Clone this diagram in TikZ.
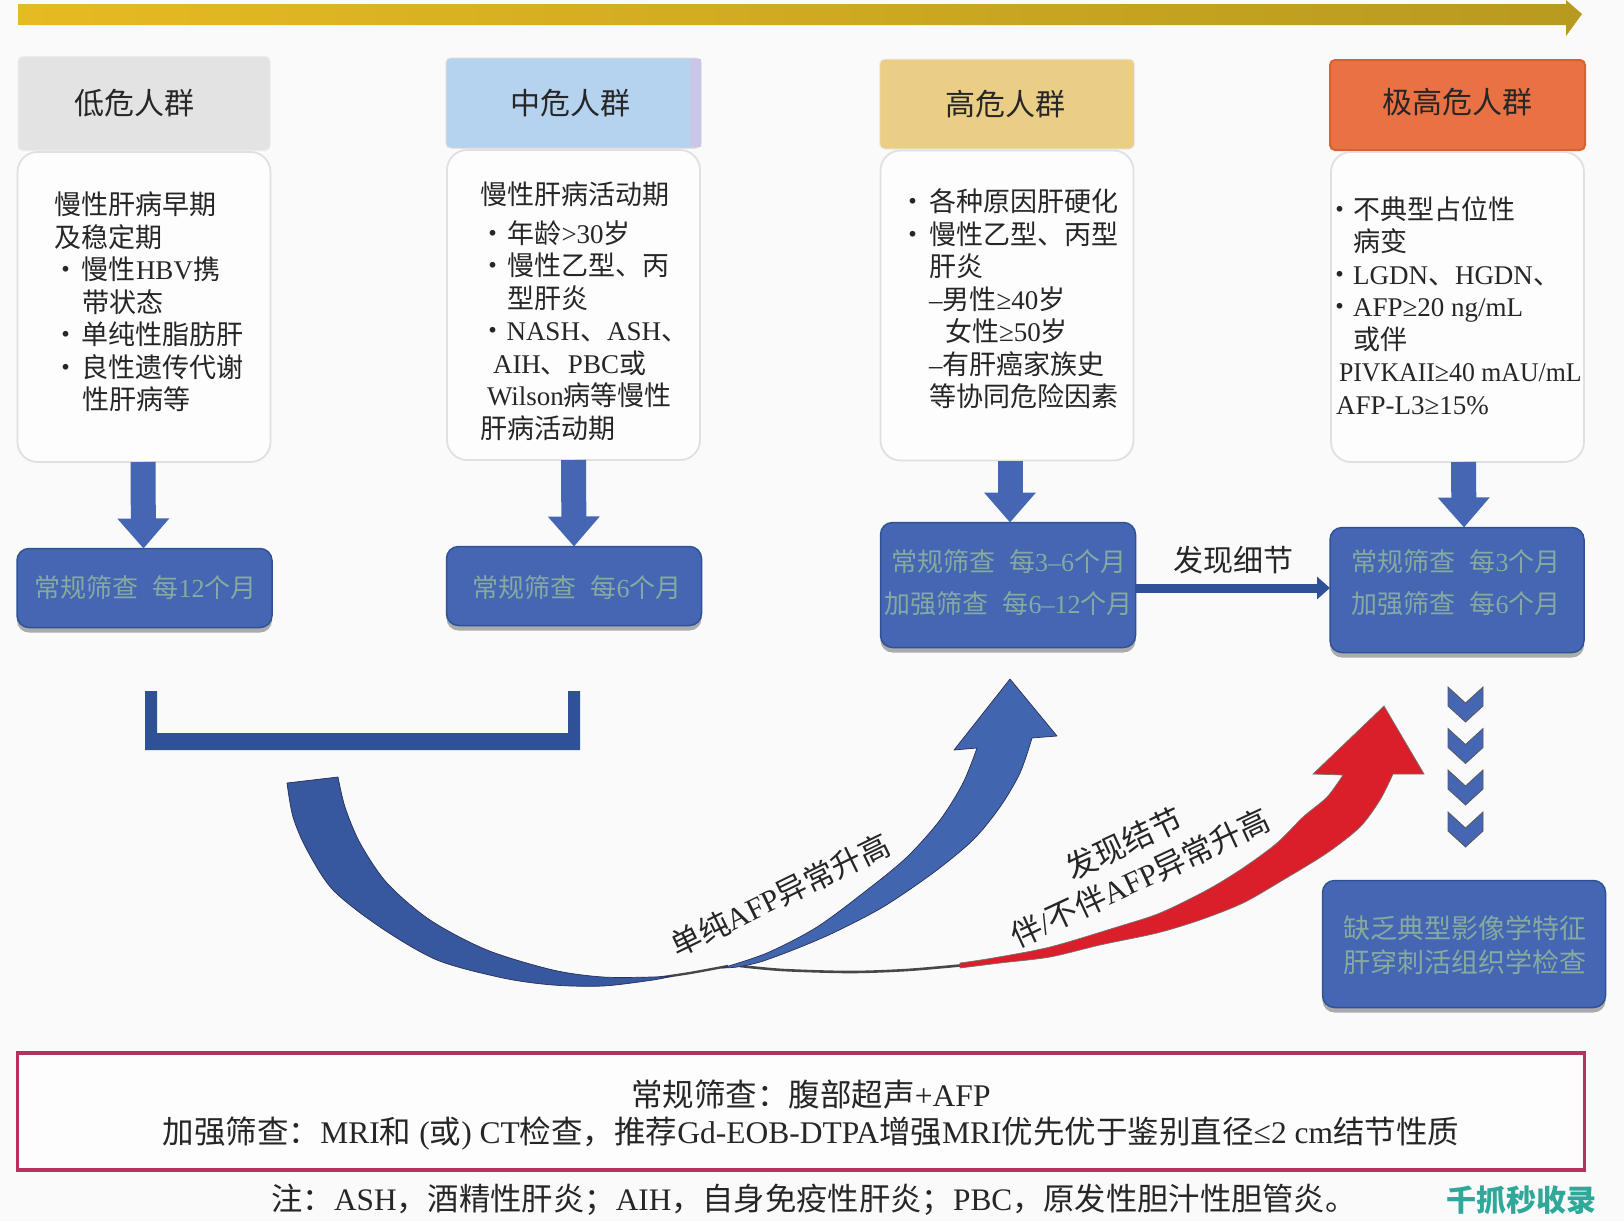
\documentclass[tikz,border=0pt]{standalone}
\usepackage{fontspec}
\setmainfont{Noto Sans CJK SC}
\newfontfamily\latf{Liberation Serif}
\usetikzlibrary{arrows.meta,shadows,calc}
\newcommand\La[1]{{\latf #1}}
\newcommand\Fs[2]{\fontsize{#1}{#2}\selectfont}
\newcommand\Bu[1]{\makebox[#1][l]{\kern-10pt •}}
\definecolor{pagebg}{HTML}{FAFAFA}
\definecolor{boxblue}{HTML}{4566B2}
\definecolor{boxedge}{HTML}{2F5296}
\definecolor{arcblue}{HTML}{37579F}
\definecolor{riseblue}{HTML}{4265B0}
\definecolor{arcedge}{HTML}{2A2F55}
\definecolor{boxtext}{HTML}{86AAA0}
\definecolor{inktext}{HTML}{262626}
\definecolor{crim}{HTML}{B8305F}
\definecolor{hgrey}{HTML}{E3E3E3}
\definecolor{hblue}{HTML}{B5D3EF}
\definecolor{hlav}{HTML}{C9C6E8}
\definecolor{hyellow}{HTML}{EBCE86}
\definecolor{horange}{HTML}{EA7144}
\definecolor{horangeedge}{HTML}{D8622E}
\definecolor{topa}{HTML}{E6BA22}
\definecolor{topb}{HTML}{D39C2A}
\definecolor{topc}{HTML}{B89A20}
\definecolor{redarrow}{HTML}{DB1F2A}
\definecolor{wmteal}{HTML}{2FA89A}
\tikzset{
  x=1pt,y=-1pt,
  every node/.style={inner sep=0pt,outer sep=0pt,text=inktext},
  header/.style={minimum width=#1,minimum height=91pt,rounded corners=5pt},
  headtext/.style={font=\Fs{30}{36}},
  bodybox/.style={draw=black!12,line width=1.8pt,fill=white!60!pagebg,rounded corners=20pt,minimum width=253pt,minimum height=310pt},
  bluebox/.style={draw=boxedge,line width=1.5pt,fill=boxblue,rounded corners=12pt,
     drop shadow={shadow xshift=0pt,shadow yshift=-5pt,opacity=.45,fill=black!70}},
  bluetext/.style={text=boxtext,font=\Fs{26}{42},align=center},
  listtext/.style={anchor=north west,align=left,font=\Fs{27}{32.5}},
  bigarrow/.style={draw=boxedge,line width=25pt,boxblue,-{Triangle[length=30pt,width=50pt]}},
  chev/.style={fill=boxblue,draw=black!65,line width=.8pt,line join=miter},
  outl/.style={draw=arcedge,line width=.7pt,line join=round},
}
\begin{document}
\begin{tikzpicture}
\useasboundingbox (0,0) rectangle (1624,1221);
\fill[pagebg] (0,0) rectangle (1624,1221);

% top arrow
\shade[left color=topa,middle color=topb,right color=topc]
  (18,4) -- (1566,4) -- (1566,0) -- (1582,14) -- (1566,36) -- (1566,25) -- (18,25) -- cycle;

% headers
\node[header=252pt,fill=hgrey,draw=black!8,line width=1pt,minimum height=94pt] (h1) at (144,103.5) {};
\node[header=255pt,fill=hblue,draw=black!15,line width=1pt,minimum height=90pt] (h2) at (573.5,103) {};
\fill[hlav] (690,59) -- (701,59) -- (701,147) -- (690,147) -- cycle;
\node[header=255pt,fill=hyellow,draw=black!8,line width=1pt,minimum height=90pt] (h3) at (1007,104) {};
\node[header=255pt,fill=horange,draw=horangeedge,line width=2pt,minimum height=90pt] (h4) at (1457.5,105) {};
\node[headtext] (ht1) at (134.5,103) {低危人群};
\node[headtext] (ht2) at (570,103) {中危人群};
\node[headtext] (ht3) at (1005,104) {高危人群};
\node[headtext] (ht4) at (1457.5,102) {极高危人群};

% bodies
\node[bodybox] (b1) at (144,307) {};
\node[bodybox] (b2) at (573.5,305) {};
\node[bodybox] (b3) at (1007,305.5) {};
\node[bodybox] (b4) at (1457.5,307) {};

\node[listtext] (l1) at (54,192) {慢性肝病早期\\及稳定期\\
  \hspace*{8pt}\Bu{20pt}慢性\La{HBV}携\\
  \hspace*{28pt}带状态\\
  \hspace*{8pt}\Bu{20pt}单纯性脂肪肝\\
  \hspace*{8pt}\Bu{20pt}良性遗传代谢\\
  \hspace*{28pt}性肝病等};
\node[listtext] (l2) at (480.5,182) {慢性肝病活动期\\[6pt]
  \hspace*{9pt}\Bu{18pt}年龄\La{>30}岁\\
  \hspace*{9pt}\Bu{18pt}慢性乙型、丙\\
  \hspace*{27pt}型肝炎\\
  \hspace*{9pt}\Bu{17pt}\La{NASH}、\La{ASH}、\\
  \hspace*{12.5pt}\La{AIH}、\La{PBC}或\\
  \hspace*{6.5pt}\La{Wilson}病等慢性\\
  肝病活动期};
\node[listtext] (l3) at (909,189) {\Bu{20pt}各种原因肝硬化\\
  \Bu{20pt}慢性乙型、丙型\\
  \hspace*{20pt}肝炎\\
  \hspace*{20pt}\La{–}男性\La{≥40}岁\\
  \hspace*{36pt}女性\La{≥50}岁\\
  \hspace*{20pt}\La{–}有肝癌家族史\\
  \hspace*{20pt}等协同危险因素};
\node[listtext] (l4) at (1336,196.5) {\Bu{17pt}不典型占位性\\
  \hspace*{17pt}病变\\
  \Bu{17pt}\La{LGDN}、\La{HGDN}、\\
  \Bu{17pt}\La{AFP≥20 ng/mL}\\
  \hspace*{17pt}或伴\\
  \hspace*{3pt}\scalebox{.955}[1]{\La{PIVKAII≥40 mAU/mL}}\\
  \La{AFP-L3≥15\%}};

% blue boxes
\node[bluebox,minimum width=255pt,minimum height=79pt] (s1) at (144.5,588) {};
\node[bluebox,minimum width=255pt,minimum height=79pt] (s2) at (574,586) {};
\node[bluebox,minimum width=255pt,minimum height=125pt] (s3) at (1008,585) {};
\node[bluebox,minimum width=254pt,minimum height=125pt] (s4) at (1457,590) {};
\node[bluebox,minimum width=283pt,minimum height=127pt] (s5) at (1464,944) {};

\node[bluetext] (st1) at (145.5,588) {常规筛查\hspace{14pt}每\La{12}个月};
\node[bluetext] (st2) at (577,588) {常规筛查\hspace{14pt}每\La{6}个月};
\node[bluetext] (st3) at (1008.5,583) {常规筛查\hspace{14pt}每\La{3–6}个月\\加强筛查\hspace{14pt}每\La{6–12}个月};
\node[bluetext] (st4) at (1456,583) {常规筛查\hspace{14pt}每\La{3}个月\\加强筛查\hspace{14pt}每\La{6}个月};
\node[bluetext,font=\Fs{27}{33.5}] (st5) at (1464.5,945) {缺乏典型影像学特征\\肝穿刺活组织学检查};

% arrows box to box
\draw[bigarrow] ([xshift=-1pt]b1.south) -- ([xshift=-1pt]s1.north);
\draw[bigarrow] (b2.south) -- (s2.north);
\draw[bigarrow] ([xshift=3pt]b3.south) -- ([xshift=2pt]s3.north);
\draw[bigarrow] ([xshift=6pt]b4.south) -- ([xshift=7pt]s4.north);
\draw[draw=boxedge,line width=9pt,-{Triangle[length=13pt,width=22pt]}] ([yshift=-3pt]s3.east) -- ([yshift=2pt]s4.west);
\node[font=\Fs{30}{36}] (found) at (1233,560) {发现细节};

% chevrons
\foreach \cy in {687,728.5,770,812}{
  \draw[chev] (1448,\cy) -- (1465.5,\cy+16) -- (1483,\cy) -- (1483,\cy+19) -- (1465.5,\cy+35) -- (1448,\cy+19) -- cycle;
}

% bracket
\fill[boxedge] (145,691) -- (157,691) -- (157,733) -- (568,733) -- (568,691) -- (580,691) -- (580,750) -- (145,750) -- cycle;

% thin dark tails
\draw[black!72,line width=2.6pt] plot[smooth,tension=.5] coordinates {(740,966) (783,970) (850,972) (907,970) (965,965)};
\draw[black!72,line width=2.4pt] plot[smooth,tension=.5] coordinates {(650,979) (690,973) (728,966)};

% red arrow
\draw[fill=redarrow,draw=black!55,line width=.7pt]
  (960,968) plot[smooth,tension=.5] coordinates {(960,968) (1000,963) (1050,957) (1100,945) (1157,933) (1200,920) (1243,903) (1283,880) (1327,853) (1360,827) (1380,800) (1393,774)}
  -- (1424,774) -- (1384,706) -- (1313,774) -- (1343,775)
  -- plot[smooth,tension=.5] coordinates {(1343,775) (1327,797) (1303,817) (1277,843) (1243,868) (1207,890) (1160,913) (1117,927) (1050,947) (993,958) (960,963)}
  -- cycle;

% blue arrow: lower arc
\draw[outl,fill=arcblue]
  (287,783) plot[smooth,tension=.5] coordinates {(287,783) (293,817) (307,850) (333,890) (380,927) (437,960) (503,978) (553,985) (603,986) (653,980) (672,976)}
  -- plot[smooth,tension=.5] coordinates {(672,976) (653,977) (603,977) (553,970) (487,950) (430,920) (387,883) (360,843) (345,807) (338,777)}
  -- cycle;
% blue arrow: rising part with head
\draw[outl,fill=riseblue]
  (722,968) plot[smooth,tension=.5] coordinates {(722,968) (737,967) (760,962) (793,950) (833,933) (883,907) (933,873) (973,840) (1000,807) (1020,773) (1032,738)}
  -- (1057,736) -- (1010,679) -- (954,750) -- (977,748)
  -- plot[smooth,tension=.5] coordinates {(977,748) (963,783) (940,820) (907,857) (867,890) (817,927) (767,953) (722,968)}
  -- cycle;

% rotated labels
\node[font=\Fs{30.5}{34},rotate=26] (lab1) at (780,895) {单纯\La{AFP}异常升高};
\node[font=\Fs{31}{38},rotate=25,align=center] (lab2) at (1132,860.5) {发现结节\\伴\La{/}不伴\La{AFP}异常升高};

% legend
\node[draw=crim,line width=3.5pt,fill=white!60!pagebg,minimum width=1567pt,minimum height=117pt] (leg) at (801,1111.5) {};
\node[font=\Fs{31.5}{37},align=center] (legt) at (811,1115) {常规筛查：腹部超声\La{+AFP}\\加强筛查：\La{MRI}和\La{ (}或\La{) CT}检查，推荐\La{Gd-EOB-DTPA}增强\La{MRI}优先优于鉴别直径\La{≤2 cm}结节性质};
\node[font=\Fs{31.3}{36}] (note) at (814,1200) {注：\La{ASH}，酒精性肝炎；\La{AIH}，自身免疫性肝炎；\La{PBC}，原发性胆汁性胆管炎。};
\node[font=\Fs{30}{36}\bfseries,text=wmteal] (wm) at (1521,1200) {千抓秒收录};
\end{tikzpicture}
\end{document}
